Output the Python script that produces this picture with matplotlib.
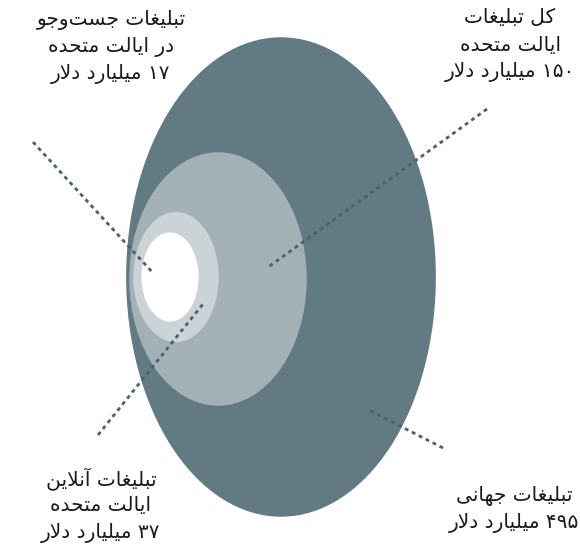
import matplotlib
matplotlib.use('Agg')
import matplotlib.pyplot as plt
from matplotlib.patches import Ellipse

# data
labels = [
    ['تبلیغات جست‌وجو', 'در ایالت متحده', '۱۷ میلیارد دلار'],
    ['تبلیغات آنلاین', 'ایالت متحده', '۳۷ میلیارد دلار'],
    ['کل تبلیغات', 'ایالت متحده', '۱۵۰ میلیارد دلار'],
    ['تبلیغات جهانی', '۴۹۵ میلیارد دلار'],
]
values = [17, 37, 150, 495]

# layout (pixels)
centers = [(170, 277), (176, 277), (218, 279), (281, 277)]
aspects = [0.64, 0.656, 0.70, 0.646]
colors = ['#ffffff', '#cbd3d6', '#a3b1b7', '#617a84']
area_per_unit = 300.0
label_pos = [(111, 20), (101, 479), (510, 18), (514, 496)]
line_step = 27
leaders = [((33, 142), (153, 273)), ((98, 435), (203, 304)),
           ((487, 109), (267, 268)), ((443, 448), (367, 409))]

# minimal arabic/persian shaping, matplotlib has no bidi support
FORMS = {
    'ا': ('\uFE8D', '\uFE8E'),
    'آ': ('\uFE81', '\uFE82'),
    'د': ('\uFEA9', '\uFEAA'),
    'ر': ('\uFEAD', '\uFEAE'),
    'و': ('\uFEED', '\uFEEE'),
    'LA': ('\uFEFB', '\uFEFC'),
    'LAA': ('\uFEF5', '\uFEF6'),
    'ب': ('\uFE8F', '\uFE90', '\uFE91', '\uFE92'),
    'ت': ('\uFE95', '\uFE96', '\uFE97', '\uFE98'),
    'ج': ('\uFE9D', '\uFE9E', '\uFE9F', '\uFEA0'),
    'ح': ('\uFEA1', '\uFEA2', '\uFEA3', '\uFEA4'),
    'س': ('\uFEB1', '\uFEB2', '\uFEB3', '\uFEB4'),
    'غ': ('\uFECD', '\uFECE', '\uFECF', '\uFED0'),
    'ک': ('\uFED9', '\uFEDA', '\uFEDB', '\uFEDC'),
    'ل': ('\uFEDD', '\uFEDE', '\uFEDF', '\uFEE0'),
    'م': ('\uFEE1', '\uFEE2', '\uFEE3', '\uFEE4'),
    'ن': ('\uFEE5', '\uFEE6', '\uFEE7', '\uFEE8'),
    'ه': ('\uFEE9', '\uFEEA', '\uFEEB', '\uFEEC'),
    'ی': ('\uFEEF', '\uFEF0', '\uFEF3', '\uFEF4'),
}


def shape_word(w):
    if all('\u06F0' <= c <= '\u06F9' for c in w):
        return w
    chars = []
    i = 0
    while i < len(w):
        if w[i] == 'ل' and i + 1 < len(w) and w[i + 1] in 'اآ':
            chars.append('LA' if w[i + 1] == 'ا' else 'LAA')
            i += 2
        else:
            chars.append(w[i])
            i += 1
    out = []
    for i, c in enumerate(chars):
        if c not in FORMS:
            continue  # zwnj etc
        f = FORMS[c]
        prev = chars[i - 1] if i > 0 else None
        nxt = chars[i + 1] if i + 1 < len(chars) else None
        jp = prev in FORMS and len(FORMS[prev]) == 4
        jn = len(f) == 4 and nxt in FORMS
        if jp and jn:
            out.append(f[3])
        elif jn:
            out.append(f[2])
        elif jp:
            out.append(f[1])
        else:
            out.append(f[0])
    return ''.join(reversed(out))


def rtl(line):
    return ' '.join(shape_word(w) for w in reversed(line.split(' ')))


fig = plt.figure(figsize=(5.8, 5.46), dpi=100)
ax = fig.add_axes([0, 0, 1, 1])
ax.set_xlim(0, 580)
ax.set_ylim(546, 0)
ax.set_aspect('equal')
ax.axis('off')

for v, c, a, col in sorted(zip(values, centers, aspects, colors), key=lambda t: -t[0]):
    area = area_per_unit * v
    w = (area * a) ** 0.5
    h = (area / a) ** 0.5
    ax.add_patch(Ellipse(c, w, h, facecolor=col, edgecolor='none', zorder=1))

for (p0, p1) in leaders:
    ax.plot([p0[0], p1[0]], [p0[1], p1[1]], color='#4a626c', lw=2,
            dashes=(1.4, 1.4), zorder=3)

for lines, (x, y) in zip(labels, label_pos):
    for k, line in enumerate(lines):
        ax.text(x, y + k * line_step, rtl(line), ha='center', va='center',
                fontsize=14.5, color='#1a1a1a', family=['DejaVu Sans'])

plt.savefig('out.png', dpi=100)
